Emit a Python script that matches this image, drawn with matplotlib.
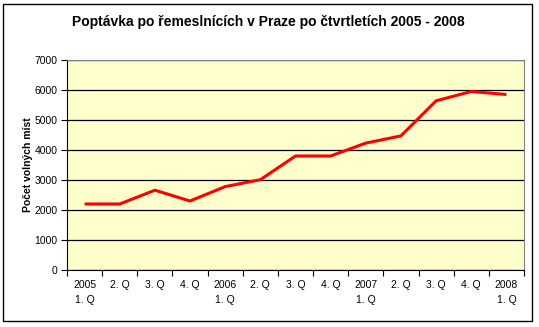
import matplotlib
matplotlib.use("Agg")
import matplotlib.pyplot as plt
from matplotlib.patches import Rectangle
import numpy as np

# ========== DATA ==========
quarters = ["2005\n1. Q", "2. Q", "3. Q", "4. Q",
            "2006\n1. Q", "2. Q", "3. Q", "4. Q",
            "2007\n1. Q", "2. Q", "3. Q", "4. Q",
            "2008\n1. Q"]
vacancies = [2200, 2200, 2660, 2300, 2780, 3010, 3800, 3800,
             4230, 4470, 5640, 5950, 5850]
y_ticks = [0, 1000, 2000, 3000, 4000, 5000, 6000, 7000]

plt.rcParams['font.family'] = ['Liberation Sans', 'DejaVu Sans']

fig = plt.figure(figsize=(5.39, 3.27), dpi=100)
ax = fig.add_axes([67 / 539, 1 - 270 / 327, 457 / 539, 210 / 327])
ax.set_facecolor("#FFFFCC")

x = np.arange(len(vacancies))
ax.plot(x, vacancies, color="#FF0000", linewidth=2.2, solid_capstyle="butt")

ax.set_xlim(-0.5, len(vacancies) - 0.5)
ax.set_ylim(0, 7000)
ax.set_yticks(y_ticks)
ax.yaxis.grid(True, color="black", linewidth=0.9)
ax.set_axisbelow(True)

ax.set_xticks(x)
ax.set_xticklabels(quarters, fontsize=7.5, linespacing=1.6, ha="center", va="top")
ax.set_xticks(np.arange(-0.5, len(vacancies)), minor=True)
ax.tick_params(axis="x", which="major", length=0, pad=7)
ax.tick_params(axis="x", which="minor", length=4, width=0.8, color="black")
ax.tick_params(axis="y", length=4, width=0.8, labelsize=7.5, pad=3)

for side in ["top", "right"]:
    ax.spines[side].set_color("#808080")
for side in ["left", "bottom"]:
    ax.spines[side].set_color("black")

ax.set_ylabel("Počet volných míst", fontsize=7.5, fontweight="bold", labelpad=1)

fig.text(268 / 539, 1 - 22 / 327, "Poptávka po řemeslnících v Praze po čtvrtletích 2005 - 2008",
         ha="center", va="center", fontsize=10, fontweight="bold")

fig.patches.append(Rectangle((3 / 539, 1 - 321 / 327), 529 / 539, 317 / 327,
                             transform=fig.transFigure, fill=False,
                             edgecolor="black", linewidth=1))

fig.savefig("out.png", dpi=100, facecolor="white")
